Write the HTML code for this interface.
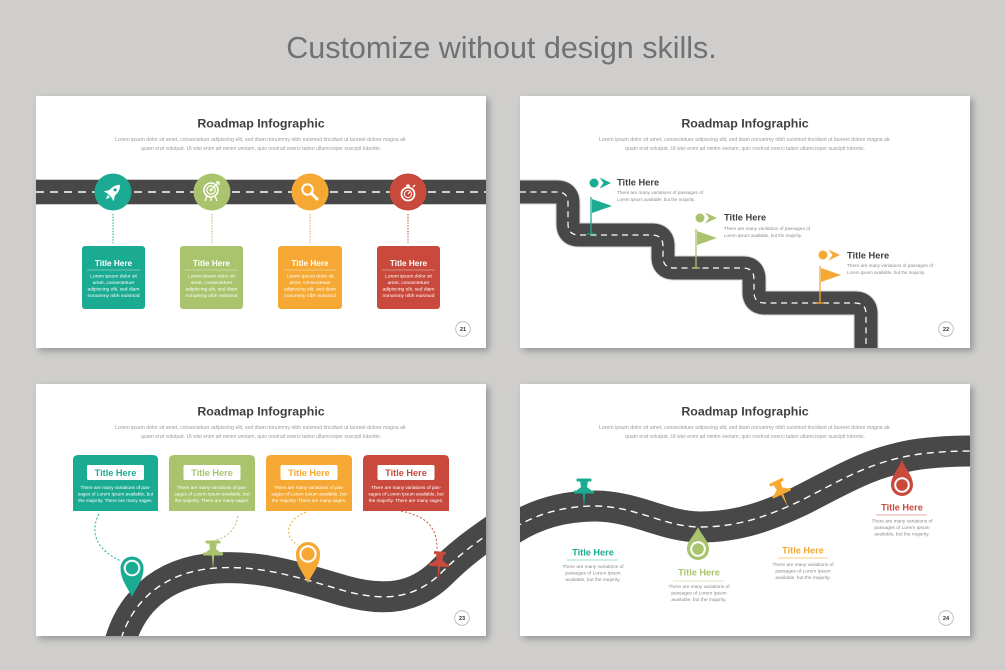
<!DOCTYPE html>
<html>
<head>
<meta charset="utf-8">
<style>
html,body{margin:0;padding:0;background:#cfcecc;}
body{width:1005px;height:670px;overflow:hidden;}
svg{display:block;}
text{font-family:"Liberation Sans",Arial,sans-serif;}
</style>
</head>
<body>
<svg width="1005" height="670" viewBox="0 0 1005 670" xmlns="http://www.w3.org/2000/svg">
<defs>
  <filter id="sh" x="-10%" y="-10%" width="125%" height="130%">
    <feDropShadow dx="3" dy="3" stdDeviation="3.5" flood-color="#000" flood-opacity="0.28"/>
  </filter>
  <clipPath id="c1"><rect x="36" y="96" width="450" height="252"/></clipPath>
  <clipPath id="c2"><rect x="520" y="96" width="450" height="252"/></clipPath>
  <clipPath id="c3"><rect x="36" y="384" width="450" height="252"/></clipPath>
  <clipPath id="c4"><rect x="520" y="384" width="450" height="252"/></clipPath>
</defs>

<rect width="1005" height="670" fill="#cfcecc"/>
<text x="501.5" y="58" font-size="30.5" fill="#717171" text-anchor="middle">Customize without design skills.</text>

<!-- slide backgrounds -->
<rect x="36" y="96" width="450" height="252" fill="#fff" filter="url(#sh)"/>
<rect x="520" y="96" width="450" height="252" fill="#fff" filter="url(#sh)"/>
<rect x="36" y="384" width="450" height="252" fill="#fff" filter="url(#sh)"/>
<rect x="520" y="384" width="450" height="252" fill="#fff" filter="url(#sh)"/>

<!-- ================= SLIDE 1 ================= -->
<g clip-path="url(#c1)">
  <text x="261" y="127.5" font-size="12.4" font-weight="bold" fill="#404040" text-anchor="middle">Roadmap Infographic</text>
  <text x="261" y="141" font-size="5" fill="#9a9a9a" text-anchor="middle" textLength="292" lengthAdjust="spacingAndGlyphs">Lorem ipsum dolor sit amet, consectetuer adipiscing elit, sed diam nonummy nibh euismod tincidunt ut laoreet dolore magna ali-</text>
  <text x="261" y="150" font-size="5" fill="#9a9a9a" text-anchor="middle" textLength="240" lengthAdjust="spacingAndGlyphs">quam erat volutpat. Ut wisi enim ad minim veniam, quis nostrud exerci tation ullamcorper suscipit lobortis.</text>

  <rect x="36" y="179" width="450" height="26" fill="#c9c9c9"/>
  <rect x="36" y="180" width="450" height="24" fill="#484848"/>
  <line x1="36" y1="192" x2="486" y2="192" stroke="#fff" stroke-width="1.4" stroke-dasharray="8 6"/>

  <!-- dotted connectors -->
  <line x1="113" y1="214" x2="113" y2="243" stroke="#1bab93" stroke-width="1.1" stroke-dasharray="1.4 1.4"/>
  <line x1="212" y1="214" x2="212" y2="243" stroke="#a9c46c" stroke-width="1.1" stroke-dasharray="1.4 1.4"/>
  <line x1="310" y1="214" x2="310" y2="243" stroke="#f5a833" stroke-width="1.1" stroke-dasharray="1.4 1.4"/>
  <line x1="408" y1="214" x2="408" y2="243" stroke="#c94a3c" stroke-width="1.1" stroke-dasharray="1.4 1.4"/>

  <!-- circles -->
  <circle cx="113" cy="192" r="18.5" fill="#1bab93"/>
  <circle cx="212" cy="192" r="18.5" fill="#a9c46c"/>
  <circle cx="310" cy="192" r="18.5" fill="#f5a833"/>
  <circle cx="408" cy="192" r="18.5" fill="#c94a3c"/>

  <!-- rocket -->
  <g transform="translate(113,192) rotate(45)" fill="#fff">
    <path d="M0,-10 C4.5,-6 4.5,1 3.2,5 L-3.2,5 C-4.5,1 -4.5,-6 0,-10Z"/>
    <path d="M-3,0 L-7,6 L-3,5Z"/>
    <path d="M3,0 L7,6 L3,5Z"/>
    <path d="M-1.8,6 L0,10 L1.8,6Z"/>
    <circle cx="0" cy="-3" r="1.6" fill="#1bab93"/>
  </g>
  <!-- target -->
  <g fill="none" stroke="#fff">
    <circle cx="211" cy="190" r="7" stroke-width="1.6"/>
    <circle cx="211" cy="190" r="4.2" stroke-width="1.3"/>
    <circle cx="211" cy="190" r="1.5" fill="#fff" stroke="none"/>
    <line x1="211" y1="190" x2="218" y2="183" stroke-width="1.2"/>
    <path d="M216,182 L219,182 L219,185" stroke-width="1.2"/>
    <line x1="207" y1="196" x2="205" y2="201" stroke-width="1.3"/>
    <line x1="215" y1="196" x2="217" y2="201" stroke-width="1.3"/>
    <line x1="211" y1="197" x2="211" y2="201" stroke-width="1.3"/>
  </g>
  <!-- magnifier -->
  <g fill="none" stroke="#fff">
    <circle cx="307.5" cy="189.5" r="5.2" stroke-width="2"/>
    <line x1="311.5" y1="193.5" x2="317" y2="199" stroke-width="3" stroke-linecap="round"/>
  </g>
  <!-- stopwatch -->
  <g fill="none" stroke="#fff">
    <circle cx="408" cy="194" r="6.5" stroke-width="1.8"/>
    <circle cx="408" cy="194" r="3.6" stroke-width="1"/>
    <line x1="408" y1="194" x2="410" y2="192" stroke-width="1.2"/>
    <rect x="406.3" y="184.5" width="3.4" height="2.4" fill="#fff" stroke="none"/>
    <line x1="413" y1="187" x2="415" y2="185" stroke-width="1.3"/>
  </g>

  <!-- boxes -->
  <g font-size="4.9" fill="#fff" text-anchor="middle">
    <rect x="82" y="246" width="63" height="63" rx="3" fill="#1bab93"/>
    <text x="113.5" y="266" font-size="8.2" font-weight="bold">Title Here</text>
    <line x1="87" y1="270" x2="140" y2="270" stroke="#fff" stroke-opacity="0.5" stroke-width="0.7"/>
    <text x="113.5" y="277.5">Lorem ipsum dolor sit</text>
    <text x="113.5" y="284">amet, consectetuer</text>
    <text x="113.5" y="290.5">adipiscing elit, sed diam</text>
    <text x="113.5" y="297">nonummy nibh euismod</text>

    <rect x="180" y="246" width="63" height="63" rx="3" fill="#a9c46c"/>
    <text x="211.5" y="266" font-size="8.2" font-weight="bold">Title Here</text>
    <line x1="185" y1="270" x2="238" y2="270" stroke="#fff" stroke-opacity="0.5" stroke-width="0.7"/>
    <text x="211.5" y="277.5">Lorem ipsum dolor sit</text>
    <text x="211.5" y="284">amet, consectetuer</text>
    <text x="211.5" y="290.5">adipiscing elit, sed diam</text>
    <text x="211.5" y="297">nonummy nibh euismod</text>

    <rect x="278" y="246" width="64" height="63" rx="3" fill="#f5a833"/>
    <text x="310" y="266" font-size="8.2" font-weight="bold">Title Here</text>
    <line x1="284" y1="270" x2="336" y2="270" stroke="#fff" stroke-opacity="0.5" stroke-width="0.7"/>
    <text x="310" y="277.5">Lorem ipsum dolor sit</text>
    <text x="310" y="284">amet, consectetuer</text>
    <text x="310" y="290.5">adipiscing elit, sed diam</text>
    <text x="310" y="297">nonummy nibh euismod</text>

    <rect x="377" y="246" width="63" height="63" rx="3" fill="#c94a3c"/>
    <text x="408.5" y="266" font-size="8.2" font-weight="bold">Title Here</text>
    <line x1="382" y1="270" x2="435" y2="270" stroke="#fff" stroke-opacity="0.5" stroke-width="0.7"/>
    <text x="408.5" y="277.5">Lorem ipsum dolor sit</text>
    <text x="408.5" y="284">amet, consectetuer</text>
    <text x="408.5" y="290.5">adipiscing elit, sed diam</text>
    <text x="408.5" y="297">nonummy nibh euismod</text>
  </g>

  <circle cx="463" cy="329" r="7.3" fill="none" stroke="#b5b5b5" stroke-width="0.8"/>
  <text x="463" y="331" font-size="5.6" font-weight="bold" fill="#333" text-anchor="middle">21</text>
</g>

<!-- ================= SLIDE 2 ================= -->
<g clip-path="url(#c2)">
  <text x="745" y="127.5" font-size="12.4" font-weight="bold" fill="#404040" text-anchor="middle">Roadmap Infographic</text>
  <text x="745" y="141" font-size="5" fill="#9a9a9a" text-anchor="middle" textLength="292" lengthAdjust="spacingAndGlyphs">Lorem ipsum dolor sit amet, consectetuer adipiscing elit, sed diam nonummy nibh euismod tincidunt ut laoreet dolore magna ali-</text>
  <text x="745" y="150" font-size="5" fill="#9a9a9a" text-anchor="middle" textLength="240" lengthAdjust="spacingAndGlyphs">quam erat volutpat. Ut wisi enim ad minim veniam, quis nostrud exerci tation ullamcorper suscipit lobortis.</text>

  <path d="M510 192 H557 Q568 192 568 203 V224 Q568 235 579 235 H652 Q663 235 663 246 V257 Q663 268 674 268 H743 Q754 268 754 279 V292 Q754 303 765 303 H855 Q866 303 866 314 V360" fill="none" stroke="#d6d6d6" stroke-width="25"/>
  <path d="M510 192 H557 Q568 192 568 203 V224 Q568 235 579 235 H652 Q663 235 663 246 V257 Q663 268 674 268 H743 Q754 268 754 279 V292 Q754 303 765 303 H855 Q866 303 866 314 V360" fill="none" stroke="#484848" stroke-width="23"/>
  <path d="M520 192 H557 Q568 192 568 203 V224 Q568 235 579 235 H652 Q663 235 663 246 V257 Q663 268 674 268 H743 Q754 268 754 279 V292 Q754 303 765 303 H855 Q866 303 866 314 V360" fill="none" stroke="#fff" stroke-width="1.2" stroke-dasharray="6 4.5"/>

  <!-- teal flag -->
  <circle cx="594" cy="183" r="4.5" fill="#1bab93"/>
  <path d="M599.5,177.5 L611,183 L599.5,188.5 L603.5,183 Z" fill="#1bab93"/>
  <text x="617" y="185.5" font-size="9.3" font-weight="bold" fill="#404040">Title Here</text>
  <text x="617" y="194" font-size="4.7" fill="#8a8a8a" textLength="86" lengthAdjust="spacingAndGlyphs">There are many variations of passages of</text>
  <text x="617" y="201" font-size="4.7" fill="#8a8a8a" textLength="78" lengthAdjust="spacingAndGlyphs">Lorem Ipsum available, but the majority.</text>
  <line x1="591" y1="197" x2="591" y2="234" stroke="#1bab93" stroke-width="1.3"/>
  <line x1="587" y1="234" x2="595" y2="234" stroke="#1bab93" stroke-width="1.3"/>
  <path d="M592,199 L612,206 L592,213 Z" fill="#1bab93"/>

  <!-- green flag -->
  <circle cx="700" cy="218" r="4.5" fill="#a9c46c"/>
  <path d="M705,212.5 L717,218 L705,223.5 L709,218 Z" fill="#a9c46c"/>
  <text x="724" y="220.5" font-size="9.3" font-weight="bold" fill="#404040">Title Here</text>
  <text x="724" y="230" font-size="4.7" fill="#8a8a8a" textLength="86" lengthAdjust="spacingAndGlyphs">There are many variations of passages of</text>
  <text x="724" y="237" font-size="4.7" fill="#8a8a8a" textLength="78" lengthAdjust="spacingAndGlyphs">Lorem Ipsum available, but the majority.</text>
  <line x1="696" y1="229" x2="696" y2="268" stroke="#a9c46c" stroke-width="1.3"/>
  <line x1="692" y1="268" x2="700" y2="268" stroke="#a9c46c" stroke-width="1.3"/>
  <path d="M697,231 L717,238 L697,245 Z" fill="#a9c46c"/>

  <!-- orange flag -->
  <circle cx="823" cy="255" r="4.5" fill="#f5a833"/>
  <path d="M828.5,249.5 L840,255 L828.5,260.5 L832.5,255 Z" fill="#f5a833"/>
  <text x="847" y="258.5" font-size="9.3" font-weight="bold" fill="#404040">Title Here</text>
  <text x="847" y="267" font-size="4.7" fill="#8a8a8a" textLength="86" lengthAdjust="spacingAndGlyphs">There are many variations of passages of</text>
  <text x="847" y="274" font-size="4.7" fill="#8a8a8a" textLength="78" lengthAdjust="spacingAndGlyphs">Lorem Ipsum available, but the majority.</text>
  <line x1="820" y1="266" x2="820" y2="303" stroke="#f5a833" stroke-width="1.3"/>
  <line x1="816" y1="303" x2="824" y2="303" stroke="#f5a833" stroke-width="1.3"/>
  <path d="M821,268 L841,275 L821,282 Z" fill="#f5a833"/>

  <circle cx="946" cy="329" r="7.3" fill="none" stroke="#b5b5b5" stroke-width="0.8"/>
  <text x="946" y="331" font-size="5.6" font-weight="bold" fill="#333" text-anchor="middle">22</text>
</g>

<!-- ================= SLIDE 3 ================= -->
<g clip-path="url(#c3)">
  <text x="261" y="415.5" font-size="12.4" font-weight="bold" fill="#404040" text-anchor="middle">Roadmap Infographic</text>
  <text x="261" y="429" font-size="5" fill="#9a9a9a" text-anchor="middle" textLength="292" lengthAdjust="spacingAndGlyphs">Lorem ipsum dolor sit amet, consectetuer adipiscing elit, sed diam nonummy nibh euismod tincidunt ut laoreet dolore magna ali-</text>
  <text x="261" y="438" font-size="5" fill="#9a9a9a" text-anchor="middle" textLength="240" lengthAdjust="spacingAndGlyphs">quam erat volutpat. Ut wisi enim ad minim veniam, quis nostrud exerci tation ullamcorper suscipit lobortis.</text>

  <!-- boxes -->
  <path d="M73 511 V460 Q73 455 78 455 H153 Q158 455 158 460 V511 Z" fill="#1bab93"/>
  <path d="M169 511 V460 Q169 455 174 455 H250 Q255 455 255 460 V511 Z" fill="#a9c46c"/>
  <path d="M266 511 V460 Q266 455 271 455 H347 Q352 455 352 460 V511 Z" fill="#f5a833"/>
  <path d="M363 511 V460 Q363 455 368 455 H444 Q449 455 449 460 V511 Z" fill="#c94a3c"/>

  <rect x="87" y="465" width="57" height="15" rx="1.5" fill="#fff"/>
  <rect x="183.5" y="465" width="57" height="15" rx="1.5" fill="#fff"/>
  <rect x="280.5" y="465" width="57" height="15" rx="1.5" fill="#fff"/>
  <rect x="377.5" y="465" width="57" height="15" rx="1.5" fill="#fff"/>

  <g font-size="9.2" font-weight="bold" text-anchor="middle">
    <text x="115.5" y="475.8" fill="#1bab93">Title Here</text>
    <text x="212" y="475.8" fill="#a9c46c">Title Here</text>
    <text x="309" y="475.8" fill="#f5a833">Title Here</text>
    <text x="406" y="475.8" fill="#c94a3c">Title Here</text>
  </g>
  <g font-size="4.7" fill="#fff" text-anchor="middle">
    <text x="115.5" y="489">There are many variations of pas-</text>
    <text x="115.5" y="495.5">sages of Lorem Ipsum available, but</text>
    <text x="115.5" y="502">the majority. There are many sages.</text>
    <text x="212" y="489">There are many variations of pas-</text>
    <text x="212" y="495.5">sages of Lorem Ipsum available, but</text>
    <text x="212" y="502">the majority. There are many sages.</text>
    <text x="309" y="489">There are many variations of pas-</text>
    <text x="309" y="495.5">sages of Lorem Ipsum available, but</text>
    <text x="309" y="502">the majority. There are many sages.</text>
    <text x="406" y="489">There are many variations of pas-</text>
    <text x="406" y="495.5">sages of Lorem Ipsum available, but</text>
    <text x="406" y="502">the majority. There are many sages.</text>
  </g>

  <!-- dashed connectors -->
  <g fill="none" stroke-width="1" stroke-dasharray="2 2">
    <path d="M99 514 C88 535, 100 552, 121 561" stroke="#1bab93"/>
    <path d="M238 516 C235 532, 225 538, 213 541" stroke="#a9c46c"/>
    <path d="M306 512 C285 520, 284 538, 298 545" stroke="#f5a833"/>
    <path d="M401 511 C425 516, 438 526, 437 551" stroke="#c94a3c"/>
  </g>

  <!-- road -->
  <path d="M118 650 C128 605, 160 572, 216 568 C262 565, 300 578, 345 591 C385 602, 415 598, 440 574 C458 556, 472 545, 500 526" fill="none" stroke="#484848" stroke-width="31"/>
  <path d="M118 650 C128 605, 160 572, 216 568 C262 565, 300 578, 345 591 C385 602, 415 598, 440 574 C458 556, 472 545, 500 526" fill="none" stroke="#fff" stroke-width="1.4" stroke-dasharray="7 5"/>

  <!-- teal map pin -->
  <path d="M132,597 C128,588 120.5,580 120.5,568 A11.5,11.5 0 1 1 143.5,568 C143.5,580 136,588 132,597 Z" fill="#1bab93"/>
  <circle cx="132" cy="568" r="8.3" fill="#fff"/>
  <circle cx="132" cy="568" r="6.3" fill="#1bab93"/>

  <!-- orange map pin -->
  <path d="M308,583 C304,574 296,566 296,554 A12,12 0 1 1 320,554 C320,566 312,574 308,583 Z" fill="#f5a833"/>
  <circle cx="308" cy="554" r="8.7" fill="#fff"/>
  <circle cx="308" cy="554" r="6.6" fill="#f5a833"/>

  <!-- green pushpin -->
  <g transform="translate(213,555)" fill="#a9c46c">
    <rect x="-7.5" y="-14.5" width="15" height="3" rx="1"/>
    <path d="M-4,-12 L4,-12 L3,-6 L8,-2 L-8,-2 L-3,-6 Z"/>
    <rect x="-10" y="-2.5" width="20" height="3" rx="1"/>
    <path d="M-1.2,0 L1.2,0 L0,15 Z"/>
  </g>
  <!-- red pushpin -->
  <g transform="translate(439,566) rotate(4)" fill="#c94a3c">
    <rect x="-6" y="-14.5" width="12" height="3" rx="1"/>
    <path d="M-3.5,-12 L3.5,-12 L3,-6 L8,-2 L-8,-2 L-3,-6 Z"/>
    <rect x="-10" y="-2.5" width="20" height="3" rx="1"/>
    <path d="M-1.2,0 L1.2,0 L0,15 Z"/>
  </g>

  <circle cx="462" cy="618" r="7.3" fill="none" stroke="#b5b5b5" stroke-width="0.8"/>
  <text x="462" y="620" font-size="5.6" font-weight="bold" fill="#333" text-anchor="middle">23</text>
</g>

<!-- ================= SLIDE 4 ================= -->
<g clip-path="url(#c4)">
  <text x="745" y="415.5" font-size="12.4" font-weight="bold" fill="#404040" text-anchor="middle">Roadmap Infographic</text>
  <text x="745" y="429" font-size="5" fill="#9a9a9a" text-anchor="middle" textLength="292" lengthAdjust="spacingAndGlyphs">Lorem ipsum dolor sit amet, consectetuer adipiscing elit, sed diam nonummy nibh euismod tincidunt ut laoreet dolore magna ali-</text>
  <text x="745" y="438" font-size="5" fill="#9a9a9a" text-anchor="middle" textLength="240" lengthAdjust="spacingAndGlyphs">quam erat volutpat. Ut wisi enim ad minim veniam, quis nostrud exerci tation ullamcorper suscipit lobortis.</text>

  <path d="M505 534 C530 516, 560 506, 595 506 C635 506, 665 527, 700 527 C740 527, 770 515, 800 501 C840 481, 870 461, 920 454 C945 451, 960 451, 985 451" fill="none" stroke="#484848" stroke-width="31"/>
  <path d="M505 534 C530 516, 560 506, 595 506 C635 506, 665 527, 700 527 C740 527, 770 515, 800 501 C840 481, 870 461, 920 454 C945 451, 960 451, 985 451" fill="none" stroke="#fff" stroke-width="1.4" stroke-dasharray="7 5"/>

  <!-- teal pushpin -->
  <g transform="translate(584,493)" fill="#1bab93">
    <rect x="-7.5" y="-14.5" width="15" height="3" rx="1"/>
    <path d="M-4,-12 L4,-12 L3,-6 L8,-2 L-8,-2 L-3,-6 Z"/>
    <rect x="-10" y="-2.5" width="20" height="3" rx="1"/>
    <path d="M-1.2,0 L1.2,0 L0,14 Z"/>
  </g>
  <!-- orange pushpin -->
  <g transform="translate(782,494) rotate(-25)" fill="#f5a833">
    <rect x="-7.5" y="-14.5" width="15" height="3" rx="1"/>
    <path d="M-4,-12 L4,-12 L3,-6 L8,-2 L-8,-2 L-3,-6 Z"/>
    <rect x="-10" y="-2.5" width="20" height="3" rx="1"/>
    <path d="M-1.2,0 L1.2,0 L0,14 Z"/>
  </g>

  <!-- green drop pin -->
  <path d="M698,527 C702,536 709,541 709,549 A11,11 0 1 1 687,549 C687,541 694,536 698,527 Z" fill="#a9c46c"/>
  <circle cx="698" cy="549" r="7.8" fill="#fff"/>
  <circle cx="698" cy="549" r="5.8" fill="#a9c46c"/>

  <!-- red drop pin -->
  <path d="M902,460 C906,470 913,476 913,485 A11,11 0 1 1 891,485 C891,476 898,470 902,460 Z" fill="#c94a3c"/>
  <circle cx="902" cy="485" r="7.8" fill="#fff"/>
  <circle cx="902" cy="485" r="5.8" fill="#c94a3c"/>

  <!-- labels -->
  <g text-anchor="middle">
    <text x="593" y="555.5" font-size="9.2" font-weight="bold" fill="#1bab93">Title Here</text>
    <line x1="567" y1="560" x2="618" y2="560" stroke="#1bab93" stroke-opacity="0.45" stroke-width="1"/>
    <text x="593" y="568" font-size="4.8" fill="#8a8a8a">There are many variations of</text>
    <text x="593" y="574.5" font-size="4.8" fill="#8a8a8a">passages of Lorem Ipsum</text>
    <text x="593" y="581" font-size="4.8" fill="#8a8a8a">available, but the majority.</text>

    <text x="699" y="575.5" font-size="9.2" font-weight="bold" fill="#a9c46c">Title Here</text>
    <line x1="673" y1="581" x2="724" y2="581" stroke="#a9c46c" stroke-opacity="0.45" stroke-width="1"/>
    <text x="699" y="588" font-size="4.8" fill="#8a8a8a">There are many variations of</text>
    <text x="699" y="594.5" font-size="4.8" fill="#8a8a8a">passages of Lorem Ipsum</text>
    <text x="699" y="601" font-size="4.8" fill="#8a8a8a">available, but the majority.</text>

    <text x="803" y="553.5" font-size="9.2" font-weight="bold" fill="#f5a833">Title Here</text>
    <line x1="778" y1="558" x2="828" y2="558" stroke="#f5a833" stroke-opacity="0.6" stroke-width="1"/>
    <text x="803" y="566" font-size="4.8" fill="#8a8a8a">There are many variations of</text>
    <text x="803" y="572.5" font-size="4.8" fill="#8a8a8a">passages of Lorem Ipsum</text>
    <text x="803" y="579" font-size="4.8" fill="#8a8a8a">available, but the majority.</text>

    <text x="902" y="510.5" font-size="9.2" font-weight="bold" fill="#c94a3c">Title Here</text>
    <line x1="876" y1="515" x2="927" y2="515" stroke="#c94a3c" stroke-opacity="0.45" stroke-width="1"/>
    <text x="902" y="522.5" font-size="4.8" fill="#8a8a8a">There are many variations of</text>
    <text x="902" y="529" font-size="4.8" fill="#8a8a8a">passages of Lorem Ipsum</text>
    <text x="902" y="535.5" font-size="4.8" fill="#8a8a8a">available, but the majority.</text>
  </g>

  <circle cx="946" cy="618" r="7.3" fill="none" stroke="#b5b5b5" stroke-width="0.8"/>
  <text x="946" y="620" font-size="5.6" font-weight="bold" fill="#333" text-anchor="middle">24</text>
</g>
</svg>
</body>
</html>
